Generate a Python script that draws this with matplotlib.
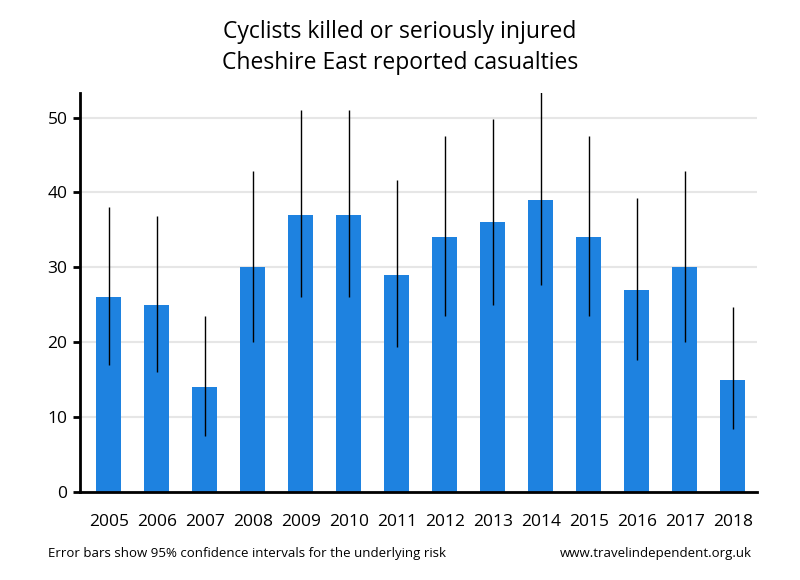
import matplotlib
matplotlib.use("Agg")
import matplotlib.pyplot as plt
import numpy as np

years = ["2005", "2006", "2007", "2008", "2009", "2010", "2011",
         "2012", "2013", "2014", "2015", "2016", "2017", "2018"]
casualties = [26, 25, 14, 30, 37, 37, 29, 34, 36, 39, 34, 27, 30, 15]
ci_low = [16.9, 16.0, 7.5, 20.0, 26.0, 26.0, 19.4, 23.5, 25.0, 27.6, 23.5, 17.6, 20.0, 8.4]
ci_high = [38.0, 36.8, 23.5, 42.8, 51.0, 51.0, 41.6, 47.5, 49.8, 53.5, 47.5, 39.2, 42.8, 24.7]

plt.rcParams['font.family'] = ['Open Sans', 'DejaVu Sans']

fig = plt.figure(figsize=(8, 5.8), dpi=100)
ax = fig.add_axes([0.1, 0.152, 0.846, 0.688])

x = np.arange(len(years))
ax.bar(x, casualties, width=0.52, color="#1E82E0", zorder=2)
ax.vlines(x, ci_low, ci_high, color="black", linewidth=1, zorder=3)

ax.set_xlim(-0.6, len(years) - 0.5)
ax.set_ylim(0, 53.3)
ax.set_yticks([0, 10, 20, 30, 40, 50])
ax.set_xticks(x)
ax.set_xticklabels(years)
ax.tick_params(axis='x', length=0, pad=16, labelsize=12.5)
ax.tick_params(axis='y', length=5, width=2, labelsize=12.5, pad=4)
ax.yaxis.grid(True, color="#e6e6e6", linewidth=1.5, zorder=0)
ax.set_axisbelow(True)

for side in ["top", "right"]:
    ax.spines[side].set_visible(False)
ax.spines["left"].set_linewidth(2)
ax.spines["bottom"].set_linewidth(2)

fig.text(0.5, 0.965, "Cyclists killed or seriously injured\nCheshire East reported casualties",
         ha="center", va="top", fontsize=16.5, linespacing=1.35)
fig.text(0.06, 0.046, "Error bars show 95% confidence intervals for the underlying risk",
         ha="left", va="center", fontsize=9.5)
fig.text(0.94, 0.046, "www.travelindependent.org.uk",
         ha="right", va="center", fontsize=9.5)

fig.savefig("out.png", dpi=100)
